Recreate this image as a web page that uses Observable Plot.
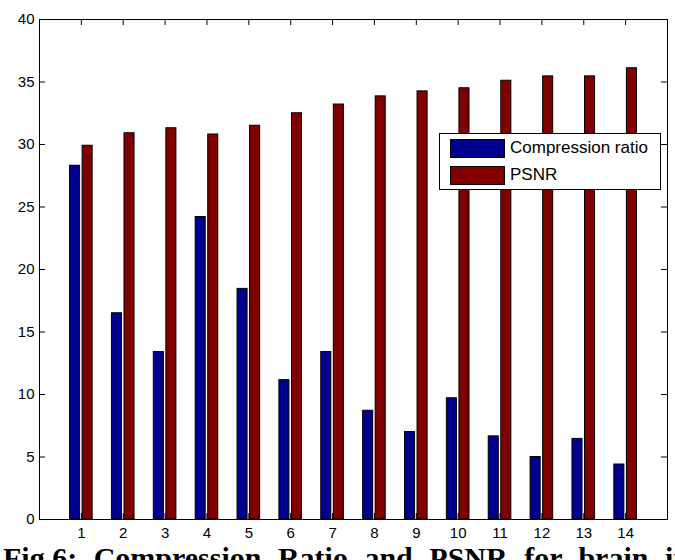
<!DOCTYPE html>
<html>
<head>
<meta charset="utf-8">
<script src="https://cdn.jsdelivr.net/npm/d3@7"></script>
<script src="https://cdn.jsdelivr.net/npm/@observablehq/plot@0.6"></script>
<style>
  html, body { margin: 0; padding: 0; background: #fff; }
  body { width: 675px; height: 560px; overflow: hidden; }
  #wrap { position: relative; width: 675px; }
  #chart svg text { font-size: 15px; }
  #legend {
    position: absolute; left: 439px; top: 133px; width: 222px; height: 57px;
    border: 1px solid #000; background: #fff; box-sizing: border-box;
    font-family: "Liberation Sans", Arial, sans-serif; font-size: 17px; color: #000;
  }
  .item { position: absolute; left: 10px; display: flex; align-items: center; height: 20px; }
  .sw { width: 55px; height: 19px; border: 1px solid #000; box-sizing: border-box; margin-right: 5px; }
  #caption {
    font-family: "Liberation Serif", "Times New Roman", serif; font-weight: bold;
    font-size: 30px; line-height: 30px; white-space: nowrap; margin-top: -2px;
    padding-left: 3px; word-spacing: 9px; color: #000;
  }
</style>
</head>
<body>
<div id="wrap"><div id="chart"></div><div id="legend"></div></div>
<div id="caption"></div>
<script>
const images = [1, 2, 3, 4, 5, 6, 7, 8, 9, 10, 11, 12, 13, 14];
const compressionRatio = [28.3, 16.5, 13.4, 24.2, 18.45, 11.15, 13.4, 8.7, 7.0, 9.7, 6.65, 5.0, 6.45, 4.4];
const psnr = [29.9, 30.9, 31.3, 30.8, 31.5, 32.5, 33.2, 33.85, 34.25, 34.5, 35.1, 35.45, 35.45, 36.1];
const seriesNames = ["Compression ratio", "PSNR"];
const seriesColors = ["#00008f", "#800000"];
const yTicks = [0, 5, 10, 15, 20, 25, 30, 35, 40];
const xTicks = images;
const captionText = "Fig.6: Compression Ratio and PSNR for brain images";

const rows = [];
images.forEach((img, i) => {
  rows.push({image: img, name: seriesNames[0], k: 0, value: compressionRatio[i]});
  rows.push({image: img, name: seriesNames[1], k: 1, value: psnr[i]});
});

const W = 675, H = 545, mL = 39, mR = 8, mT = 19, mB = 26;
const innerW = W - mL - mR, innerH = H - mT - mB;
const tick = 6;
const font = "'Liberation Sans', Arial, Helvetica, sans-serif";

const chart = Plot.plot({
  width: W, height: H,
  marginLeft: mL, marginRight: mR, marginTop: mT, marginBottom: mB,
  style: {fontFamily: font, fontSize: "15px", color: "#000", background: "#fff"},
  x: {domain: [0, 15]},
  y: {domain: [0, 40]},
  color: {domain: seriesNames, range: seriesColors},
  marks: [
    Plot.rectY(rows, {
      x1: d => d.image + (d.k === 0 ? -0.27 : 0.03),
      x2: d => d.image + (d.k === 0 ? -0.03 : 0.27),
      y1: 0, y2: "value",
      fill: "name", stroke: "#000", strokeWidth: 1
    }),
    Plot.ruleX(xTicks, {x: d => d, insetTop: innerH - tick, stroke: "#000"}),
    Plot.ruleX(xTicks, {x: d => d, insetBottom: innerH - tick, stroke: "#000"}),
    Plot.ruleY(yTicks, {y: d => d, insetRight: innerW - tick, stroke: "#000"}),
    Plot.ruleY(yTicks, {y: d => d, insetLeft: innerW - tick, stroke: "#000"}),
    Plot.axisX(xTicks, {tickSize: 0, tickPadding: 8, label: null, fontSize: 15, fontFamily: font}),
    Plot.axisY(yTicks, {tickSize: 0, tickPadding: 5, label: null, fontSize: 15, fontFamily: font}),
    Plot.frame({stroke: "#000", strokeWidth: 1})
  ]
});
document.getElementById("chart").appendChild(chart);

const legend = document.getElementById("legend");
const tops = [4, 31];
seriesNames.forEach((n, i) => {
  const it = document.createElement("div");
  it.className = "item";
  it.style.top = tops[i] + "px";
  const sw = document.createElement("div");
  sw.className = "sw";
  sw.style.background = seriesColors[i];
  const tx = document.createElement("span");
  tx.textContent = n;
  it.appendChild(sw); it.appendChild(tx);
  legend.appendChild(it);
});

document.getElementById("caption").textContent = captionText;
</script>
</body>
</html>
